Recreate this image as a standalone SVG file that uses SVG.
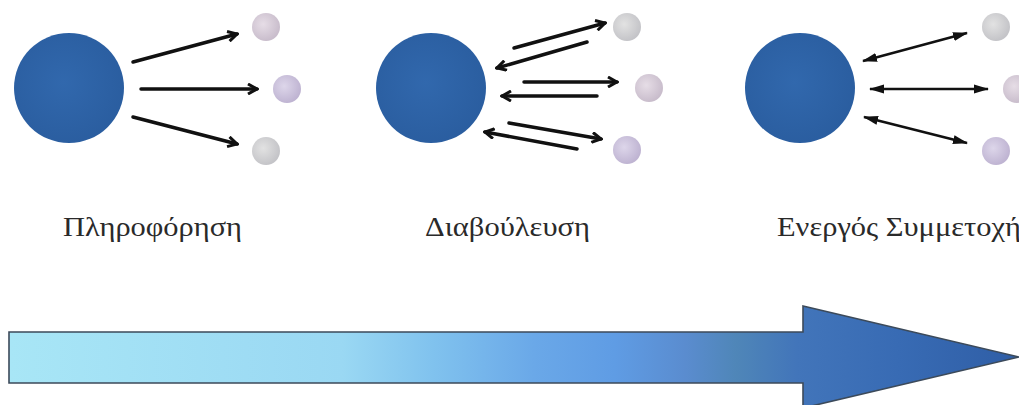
<svg xmlns="http://www.w3.org/2000/svg" width="1019" height="405" viewBox="0 0 1019 405">
<style>
.big{fill:url(#bigG)}
.sm{stroke:none}
.a1{stroke:#111;stroke-width:3.5;fill:none;stroke-linecap:round;marker-end:url(#chev)}
.a3{stroke:#111;stroke-width:2.5;fill:none;marker-end:url(#tri);marker-start:url(#triS)}
.lbl{font-family:"Liberation Serif","DejaVu Serif",serif;font-size:28px;fill:#2a2a2a}
</style>
<defs>
<radialGradient id="bigG" cx="0.45" cy="0.45" r="0.6">
<stop offset="0" stop-color="#3168ad"/>
<stop offset="1" stop-color="#2a5d9f"/>
</radialGradient>
<radialGradient id="s1" cx="0.4" cy="0.4" r="0.6">
<stop offset="0" stop-color="#e6dde6"/>
<stop offset="1" stop-color="#c9bdcc"/>
</radialGradient>
<radialGradient id="s2" cx="0.4" cy="0.4" r="0.6">
<stop offset="0" stop-color="#ddd6ea"/>
<stop offset="1" stop-color="#bfb4d2"/>
</radialGradient>
<radialGradient id="s3" cx="0.4" cy="0.4" r="0.6">
<stop offset="0" stop-color="#e2e2e2"/>
<stop offset="1" stop-color="#c4c4c8"/>
</radialGradient>
<linearGradient id="band" gradientUnits="userSpaceOnUse" x1="9" y1="0" x2="1019" y2="0">
<stop offset="0" stop-color="#a8e6f6"/>
<stop offset="0.33" stop-color="#9ad8f3"/>
<stop offset="0.42" stop-color="#80c2ee"/>
<stop offset="0.52" stop-color="#6aa8e8"/>
<stop offset="0.6" stop-color="#5f9ce4"/>
<stop offset="0.67" stop-color="#5a8ccf"/>
<stop offset="0.72" stop-color="#4f86b8"/>
<stop offset="0.78" stop-color="#4275ba"/>
<stop offset="0.88" stop-color="#386bb4"/>
<stop offset="1" stop-color="#2f5ea6"/>
</linearGradient>
<marker id="chev" viewBox="0 0 12 12" refX="10" refY="6" markerWidth="12" markerHeight="12" markerUnits="userSpaceOnUse" orient="auto">
<path d="M1,1 L10,6 L1,11" fill="none" stroke="#111" stroke-width="3" stroke-linejoin="miter"/>
</marker>
<marker id="tri" viewBox="0 0 15 11" refX="14" refY="5.5" markerWidth="15" markerHeight="11" markerUnits="userSpaceOnUse" orient="auto">
<path d="M0,1 L15,5.5 L0,10 Z" fill="#111"/>
</marker>
<marker id="triS" viewBox="0 0 15 11" refX="1" refY="5.5" markerWidth="15" markerHeight="11" markerUnits="userSpaceOnUse" orient="auto">
<path d="M15,1 L0,5.5 L15,10 Z" fill="#111"/>
</marker>
</defs>
<rect width="1019" height="405" fill="#ffffff"/>

<g id="node-informing">
<circle class="big" cx="69" cy="88" r="55"/>
<circle class="sm" cx="266" cy="27" r="14" fill="url(#s1)"/>
<circle class="sm" cx="287" cy="89" r="14" fill="url(#s2)"/>
<circle class="sm" cx="266" cy="151" r="14" fill="url(#s3)"/>
</g>
<g id="node-consultation">
<circle class="big" cx="431" cy="88" r="55"/>
<circle class="sm" cx="627" cy="27" r="14" fill="url(#s3)"/>
<circle class="sm" cx="649" cy="88" r="14" fill="url(#s1)"/>
<circle class="sm" cx="627" cy="150" r="14" fill="url(#s2)"/>
</g>
<g id="node-participation">
<circle class="big" cx="800" cy="88" r="55"/>
<circle class="sm" cx="996" cy="27" r="14" fill="url(#s3)"/>
<circle class="sm" cx="1017" cy="89" r="14" fill="url(#s1)"/>
<circle class="sm" cx="996" cy="151" r="14" fill="url(#s2)"/>
</g>

<g id="connectors">
<line class="a1" x1="133" y1="62" x2="237" y2="34"/>
<line class="a1" x1="141" y1="89" x2="257" y2="89"/>
<line class="a1" x1="133" y1="117" x2="237" y2="144"/>

<line class="a1" x1="514" y1="48" x2="605" y2="23"/>
<line class="a1" x1="587" y1="42" x2="497" y2="68"/>
<line class="a1" x1="524" y1="82" x2="617" y2="82"/>
<line class="a1" x1="597" y1="96" x2="502" y2="96"/>
<line class="a1" x1="509" y1="123" x2="601" y2="139"/>
<line class="a1" x1="577" y1="149" x2="485" y2="132"/>

<line class="a3" x1="863" y1="61" x2="967" y2="33"/>
<line class="a3" x1="870" y1="89" x2="988" y2="89"/>
<line class="a3" x1="864" y1="117" x2="967" y2="143"/>
</g>

<g id="labels">
<text class="lbl" x="63" y="236" textLength="179" lengthAdjust="spacingAndGlyphs">Πληροφόρηση</text>
<text class="lbl" x="425" y="236" textLength="165" lengthAdjust="spacingAndGlyphs">Διαβούλευση</text>
<text class="lbl" x="777" y="236" textLength="244" lengthAdjust="spacingAndGlyphs">Ενεργός Συμμετοχή</text>
</g>

<g id="progress-arrow">
<path d="M9,332 L803,332 L803,306 L1019,357 L803,408 L803,383 L9,383 Z" fill="url(#band)" stroke="#3c4a5a" stroke-width="1.6" stroke-linejoin="miter"/>
</g>
</svg>
